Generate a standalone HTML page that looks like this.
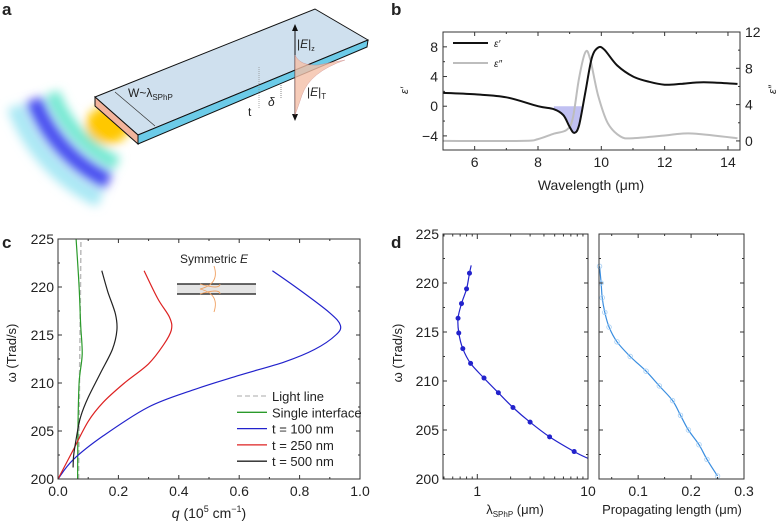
<!DOCTYPE html>
<html><head><meta charset="utf-8">
<style>
body{margin:0;background:#fff;font-family:"Liberation Sans",sans-serif;}
svg{display:block}
text{font-family:"Liberation Sans",sans-serif;fill:#222}
</style></head><body>
<svg id="fig" width="782" height="524" viewBox="0 0 782 524">
<defs>
<filter id="blur" x="-50%" y="-50%" width="200%" height="200%"><feGaussianBlur stdDeviation="5"/></filter>
</defs>
<!-- panel labels -->
<text x="2" y="15" font-size="17" font-weight="bold">a</text>
<text x="391" y="15" font-size="17" font-weight="bold">b</text>
<text x="2" y="248" font-size="17" font-weight="bold">c</text>
<text x="391" y="248" font-size="17" font-weight="bold">d</text>

<!-- panel a illustration -->
<g>
<g filter="url(#blur)">
<path d="M100.2,199.5 A165,165 0 0 1 14.9,106.4" fill="none" stroke="#a8e8f4" stroke-width="16"/>
<path d="M108.7,181.4 A145,145 0 0 1 33.7,99.6" fill="none" stroke="#4a50f0" stroke-width="18"/>
<path d="M117.1,163.3 A125,125 0 0 1 52.5,92.8" fill="none" stroke="#70e8d0" stroke-width="14"/>
<ellipse cx="108" cy="125" rx="22" ry="19" fill="#ffc800"/>
</g>
<polygon points="95,97 315,9 368,40 138,135" fill="#cfe0ee" stroke="#111" stroke-width="1"/>
<polygon points="138,135 368,40 367,47 138,144" fill="#6ccbe8" stroke="#111" stroke-width="1"/>
<polygon points="95,97 138,135 138,144 95,106" fill="#f3b49c" stroke="#111" stroke-width="1"/>
<line x1="115" y1="92" x2="155" y2="126" stroke="#333" stroke-width="0.7"/>
<line x1="295" y1="26" x2="295" y2="119" stroke="#111" stroke-width="1"/>
<polygon points="295,24 292,31 298,31" fill="#111"/><polygon points="295,121 292,114 298,114" fill="#111"/>
<path d="M295,55 Q300,66 318,65 L345,60 Q310,72 302,95 Q297,110 295,115 Z" fill="#f5c0a8" opacity="0.8" stroke="#c88" stroke-width="0.5"/>
<line x1="259" y1="67" x2="259" y2="108" stroke="#888" stroke-width="0.7" stroke-dasharray="1,1"/>
<line x1="281" y1="85" x2="281" y2="98" stroke="#555" stroke-width="0.7" stroke-dasharray="1,1"/>
<text x="128" y="97" font-size="12">W~λ<tspan font-size="8" dy="3">SPhP</tspan></text>
<text x="248" y="116" font-size="12">t</text>
<text x="268" y="106" font-size="12" font-style="italic">δ</text>
<text x="297" y="48" font-size="12">|<tspan font-style="italic">E</tspan>|<tspan font-size="7" dy="3">z</tspan></text>
<text x="307" y="96" font-size="12">|<tspan font-style="italic">E</tspan>|<tspan font-size="8" dy="3">T</tspan></text>
</g>
<g id="charts"></g>
</svg>
<script>
// ---------- data ----------
const bEps1X=[5,6,7,8,8.5,8.8,9,9.15,9.3,9.5,9.7,9.9,10.1,10.5,11,11.5,12,12.5,13,13.5,14.3];
const bEps1Y=[1.8,1.6,1.2,0,-0.4,-1.2,-2.8,-3.6,-2.5,2,6.5,7.9,7.6,5.5,4,3.3,2.9,3,3.2,3.2,3.0];
const bEps2X=[5,7.5,8,8.5,8.9,9.1,9.3,9.5,9.65,9.9,10.2,10.6,11,12,12.5,13,14.3];
const bEps2Y=[0,0,0.2,0.8,1.2,2.5,7,9.8,9,5,2,0.5,0.3,0.6,0.8,0.8,0.3];
const bXTicks=[6,8,10,12,14], bYTicks=[-4,0,4,8], bY2Ticks=[0,4,8,12];

const cBlueQ=[0,0.05,0.15,0.3,0.45,0.6,0.75,0.85,0.92,0.935,0.9,0.8,0.71];
const cBlueW=[200,202,204.5,207.5,209.3,210.8,212.2,213.5,215,216,217.3,219.7,221.7];
const cRedQ=[0,0.05,0.1,0.15,0.22,0.3,0.35,0.375,0.37,0.33,0.285];
const cRedW=[200,203,206,208,210,212,214,215.5,216.8,218.8,221.7];
const cBlackQ=[0.05,0.052,0.062,0.075,0.1,0.14,0.18,0.195,0.19,0.165,0.145];
const cBlackW=[201.2,202.5,204.5,206.5,208.5,211,213.5,215.5,217.2,219.5,221.7];
const cGreenQ=[0.065,0.066,0.07,0.08,0.075,0.07,0.06];
const cGreenW=[200,205,210,213,216,220,225];
const cLightQ=[0.068,0.076], cLightW=[200,225];
const cXTicks=[0,0.2,0.4,0.6,0.8,1.0], cYTicks=[200,205,210,215,220,225];

const dLamPts=[0.85,0.8,0.72,0.67,0.68,0.74,0.87,1.15,1.55,2.1,3,4.5,7.5];
const dLamW=[221,219.4,217.9,216.4,214.9,213.3,211.8,210.3,208.8,207.3,205.8,204.3,202.8];
const dLamCurve=[0.88,0.85,0.8,0.72,0.67,0.68,0.74,0.87,1.15,1.55,2.1,3,4.5,7.5,10];
const dLamCurveW=[221.8,221,219.4,217.9,216.4,214.9,213.3,211.8,210.3,208.8,207.3,205.8,204.3,202.8,202.1];
const dLenL=[0.027,0.03,0.032,0.037,0.045,0.06,0.085,0.115,0.14,0.165,0.18,0.195,0.215,0.23,0.25];
const dLenW=[221.7,220,218.5,217,215.5,214,212.5,211,209.5,208,206.5,205,203.5,202,200.3];
const dYTicks=[200,205,210,215,220,225], dX2Ticks=[0.1,0.2,0.3];

// ---------- helpers ----------
const NS='http://www.w3.org/2000/svg';
const root=document.getElementById('charts');
function mk(tag,attrs,parent){const e=document.createElementNS(NS,tag);for(const k in attrs)e.setAttribute(k,attrs[k]);(parent||root).appendChild(e);return e;}
function lin(d0,d1,r0,r1){return v=>r0+(v-d0)/(d1-d0)*(r1-r0);}
function logs(d0,d1,r0,r1){return v=>r0+(Math.log10(v)-Math.log10(d0))/(Math.log10(d1)-Math.log10(d0))*(r1-r0);}
function smooth(pts){let d='M'+pts[0][0].toFixed(1)+','+pts[0][1].toFixed(1);
 for(let i=0;i<pts.length-1;i++){const p0=pts[i-1]||pts[i],p1=pts[i],p2=pts[i+1],p3=pts[i+2]||p2;
 const c1=[p1[0]+(p2[0]-p0[0])/6,p1[1]+(p2[1]-p0[1])/6],c2=[p2[0]-(p3[0]-p1[0])/6,p2[1]-(p3[1]-p1[1])/6];
 d+=' C'+c1.map(v=>v.toFixed(1))+' '+c2.map(v=>v.toFixed(1))+' '+p2.map(v=>v.toFixed(1));}return d;}
function series(xs,ys,sx,sy){return xs.map((x,i)=>[sx(x),sy(ys[i])]);}
function txt(x,y,s,attrs){const t=mk('text',Object.assign({x:x,y:y,'font-size':13},attrs||{}));t.textContent=s;return t;}
function frame(x0,y0,x1,y1,name){const r=mk('rect',{x:x0,y:y0,width:x1-x0,height:y1-y0,fill:'none',stroke:'#333','stroke-width':1});}
function tick(x1,y1,x2,y2){mk('line',{x1:x1,y1:y1,x2:x2,y2:y2,stroke:'#333','stroke-width':1});}

// ---------- panel b ----------
(function(){
 const L=443,R=740,T=32,B=150;
 const sx=lin(5,14.38,L,R), sy=lin(-5.9,10,B,T), sy2=lin(-1,12,B,T);
 const sh=[];for(let i=0;i<bEps1X.length;i++){if(bEps1X[i]>=8.5&&bEps1X[i]<=9.3)sh.push([sx(bEps1X[i]),sy(bEps1Y[i])]);}
 const p=mk('path',{d:'M'+sx(8.5)+','+sy(-0.4)+' '+sh.map(q=>'L'+q[0]+','+q[1]).join(' ')+' L'+sx(9.38)+','+sy(0)+' L'+sx(8.5)+','+sy(0)+'Z',fill:'#c0c0f2',stroke:'none'});
 
 const g2=mk('path',{d:smooth(series(bEps2X,bEps2Y,sx,sy2)),fill:'none',stroke:'#bdbdbd','stroke-width':2});
 
 const g1=mk('path',{d:smooth(series(bEps1X,bEps1Y,sx,sy)),fill:'none',stroke:'#111','stroke-width':2});
 
 frame(L,T,R,B,'plot-area-b');
 bXTicks.forEach(v=>{tick(sx(v),B,sx(v),B-4);tick(sx(v),T,sx(v),T+4);txt(sx(v),B+17,String(v),{'text-anchor':'middle','font-size':14});});
 [5,7,9,11,13].forEach(v=>{tick(sx(v),B,sx(v),B-2);tick(sx(v),T,sx(v),T+2);});
 bYTicks.forEach(v=>{tick(L,sy(v),L+4,sy(v));txt(L-5,sy(v)+5,v<0?'−'+Math.abs(v):String(v),{'text-anchor':'end','font-size':14});});
 [-2,2,6].forEach(v=>tick(L,sy(v),L+2,sy(v)));
 bY2Ticks.forEach(v=>{tick(R,sy2(v),R-4,sy2(v));txt(R+5,sy2(v)+5,String(v),{'font-size':14});});
 [2,6,10].forEach(v=>tick(R,sy2(v),R-2,sy2(v)));
 txt(591,190,'Wavelength (μm)',{'text-anchor':'middle','font-size':14});
 txt(408,94,'ε′',{'font-size':11,'font-style':'italic',transform:'rotate(-90 408 94)'});
 txt(776,94,'ε″',{'font-size':11,'font-style':'italic',transform:'rotate(-90 776 94)'});
 mk('line',{x1:453,y1:43,x2:488,y2:43,stroke:'#111','stroke-width':2});
 mk('line',{x1:453,y1:63,x2:488,y2:63,stroke:'#bdbdbd','stroke-width':2});
 txt(494,47,'ε′',{'font-size':10,'font-style':'italic',fill:'#666'});
 txt(494,67,'ε″',{'font-size':10,'font-style':'italic',fill:'#666'});
})();

// ---------- panel c ----------
(function(){
 const L=58,R=360,T=239,B=479;
 const sx=lin(0,1,L,R), sy=lin(200,225,B,T);
 const ll=mk('path',{d:'M'+sx(cLightQ[0])+','+sy(cLightW[0])+' L'+sx(cLightQ[1])+','+sy(cLightW[1]),stroke:'#bbb','stroke-width':1.5,'stroke-dasharray':'5,3',fill:'none'});
 
 const S=[[cGreenQ,cGreenW,'#2a9a2a','single-interface-line'],[cBlueQ,cBlueW,'#2222cc','t100-line'],[cRedQ,cRedW,'#dd2222','t250-line'],[cBlackQ,cBlackW,'#222','t500-line']];
 S.forEach(s=>{const p=mk('path',{d:smooth(series(s[0],s[1],sx,sy)),fill:'none',stroke:s[2],'stroke-width':1.2});});
 frame(L,T,R,B,'plot-area-c');
 cXTicks.forEach(v=>{tick(sx(v),B,sx(v),B-4);tick(sx(v),T,sx(v),T+4);txt(sx(v),B+17,v.toFixed(1),{'text-anchor':'middle','font-size':14});});
 [0.1,0.3,0.5,0.7,0.9].forEach(v=>{tick(sx(v),B,sx(v),B-2);tick(sx(v),T,sx(v),T+2);});
 cYTicks.forEach(v=>{tick(L,sy(v),L+4,sy(v));tick(R,sy(v),R-4,sy(v));txt(L-4,sy(v)+5,String(v),{'text-anchor':'end','font-size':14});});
 [202.5,207.5,212.5,217.5,222.5].forEach(v=>{tick(L,sy(v),L+2,sy(v));tick(R,sy(v),R-2,sy(v));});
 const xt=txt(209,518,'',{'text-anchor':'middle','font-size':14});xt.innerHTML='<tspan font-style="italic">q</tspan> (10<tspan font-size="9" dy="-6">5</tspan><tspan dy="6"> cm</tspan><tspan font-size="9" dy="-6">−1</tspan><tspan dy="6">)</tspan>';
 txt(22,359,'ω (Trad/s)',{'text-anchor':'middle','font-size':13,transform:'rotate(-90 16 359)'});
 const leg=[['Light line','#bbb',true],['Single interface','#2a9a2a'],['t = 100 nm','#2222cc'],['t = 250 nm','#dd2222'],['t = 500 nm','#222']];
 leg.forEach((e,i)=>{const y=396+i*16.3;mk('line',{x1:237,y1:y,x2:267,y2:y,stroke:e[1],'stroke-width':1.3,'stroke-dasharray':e[2]?'5,3':'none'});const t=txt(272,y+5,e[0],{'font-size':13});});
 mk('rect',{x:177,y:284,width:79,height:10,fill:'#e4e4e4',stroke:'none'});
 mk('line',{x1:177,y1:284,x2:256,y2:284,stroke:'#111','stroke-width':1.3});
 mk('line',{x1:177,y1:294,x2:256,y2:294,stroke:'#111','stroke-width':1.3});
 mk('path',{d:'M214,266 Q220,284 200,289 Q220,294 214,312 M200,284 Q220,290 220,284 M200,294 Q220,288 220,294',fill:'none',stroke:'#f0a060','stroke-width':0.9});
 const it=txt(180,263,'',{'font-size':12});it.innerHTML='Symmetric <tspan font-style="italic">E</tspan>';
})();

// ---------- panel d ----------
(function(){
 const L=443,R=588,T=234,B=479;
 const sx=logs(0.49,10,L,R), sy=lin(200,225,B,T);
 const c=mk('path',{d:smooth(series(dLamCurve,dLamCurveW,sx,sy)),fill:'none',stroke:'#2222cc','stroke-width':1.2});
 
 dLamPts.forEach((v,i)=>{const p=mk('circle',{cx:sx(v),cy:sy(dLamW[i]),r:2.5,fill:'#2222cc'});});
 frame(L,T,R,B,'plot-area-d-left');
 [1,10].forEach(v=>{tick(sx(v),B,sx(v),B-5);tick(sx(v),T,sx(v),T+5);txt(sx(v),B+17,String(v),{'text-anchor':'middle','font-size':14});});
 [0.5,0.6,0.7,0.8,0.9,2,3,4,5,6,7,8,9].forEach(v=>{tick(sx(v),B,sx(v),B-2.5);tick(sx(v),T,sx(v),T+2.5);});
 dYTicks.forEach(v=>{tick(L,sy(v),L+4,sy(v));tick(R,sy(v),R-4,sy(v));txt(L-4,sy(v)+5,String(v),{'text-anchor':'end','font-size':14});});
 [202.5,207.5,212.5,217.5,222.5].forEach(v=>{tick(L,sy(v),L+2,sy(v));tick(R,sy(v),R-2,sy(v));});
 txt(408,359,'ω (Trad/s)',{'text-anchor':'middle','font-size':13,transform:'rotate(-90 402 359)'});
 const xl=txt(515,514,'',{'text-anchor':'middle','font-size':13});xl.innerHTML='λ<tspan font-size="8" dy="3">SPhP</tspan><tspan dy="-3"> (μm)</tspan>';
 const L2=599,R2=744;
 const sx2=lin(0.026,0.3,L2,R2);
 const c2=mk('path',{d:smooth(series(dLenL,dLenW,sx2,sy)),fill:'none',stroke:'#3a8ee0','stroke-width':1.2});
 
 dLenL.forEach((v,i)=>{const p=mk('circle',{cx:sx2(v),cy:sy(dLenW[i]),r:2.3,fill:'none',stroke:'#a8d0f4','stroke-width':0.8});});
 frame(L2,T,R2,B,'plot-area-d-right');
 dX2Ticks.forEach(v=>{tick(sx2(v),B,sx2(v),B-4);tick(sx2(v),T,sx2(v),T+4);txt(sx2(v),B+17,String(v),{'text-anchor':'middle','font-size':14});});
 [0.05,0.15,0.25].forEach(v=>{tick(sx2(v),B,sx2(v),B-2);tick(sx2(v),T,sx2(v),T+2);});
 dYTicks.forEach(v=>{tick(L2,sy(v),L2+4,sy(v));tick(R2,sy(v),R2-4,sy(v));});
 [202.5,207.5,212.5,217.5,222.5].forEach(v=>{tick(L2,sy(v),L2+2,sy(v));tick(R2,sy(v),R2-2,sy(v));});
 txt(672,514,'Propagating length (μm)',{'text-anchor':'middle','font-size':13});
})();
</script>
</body></html>
